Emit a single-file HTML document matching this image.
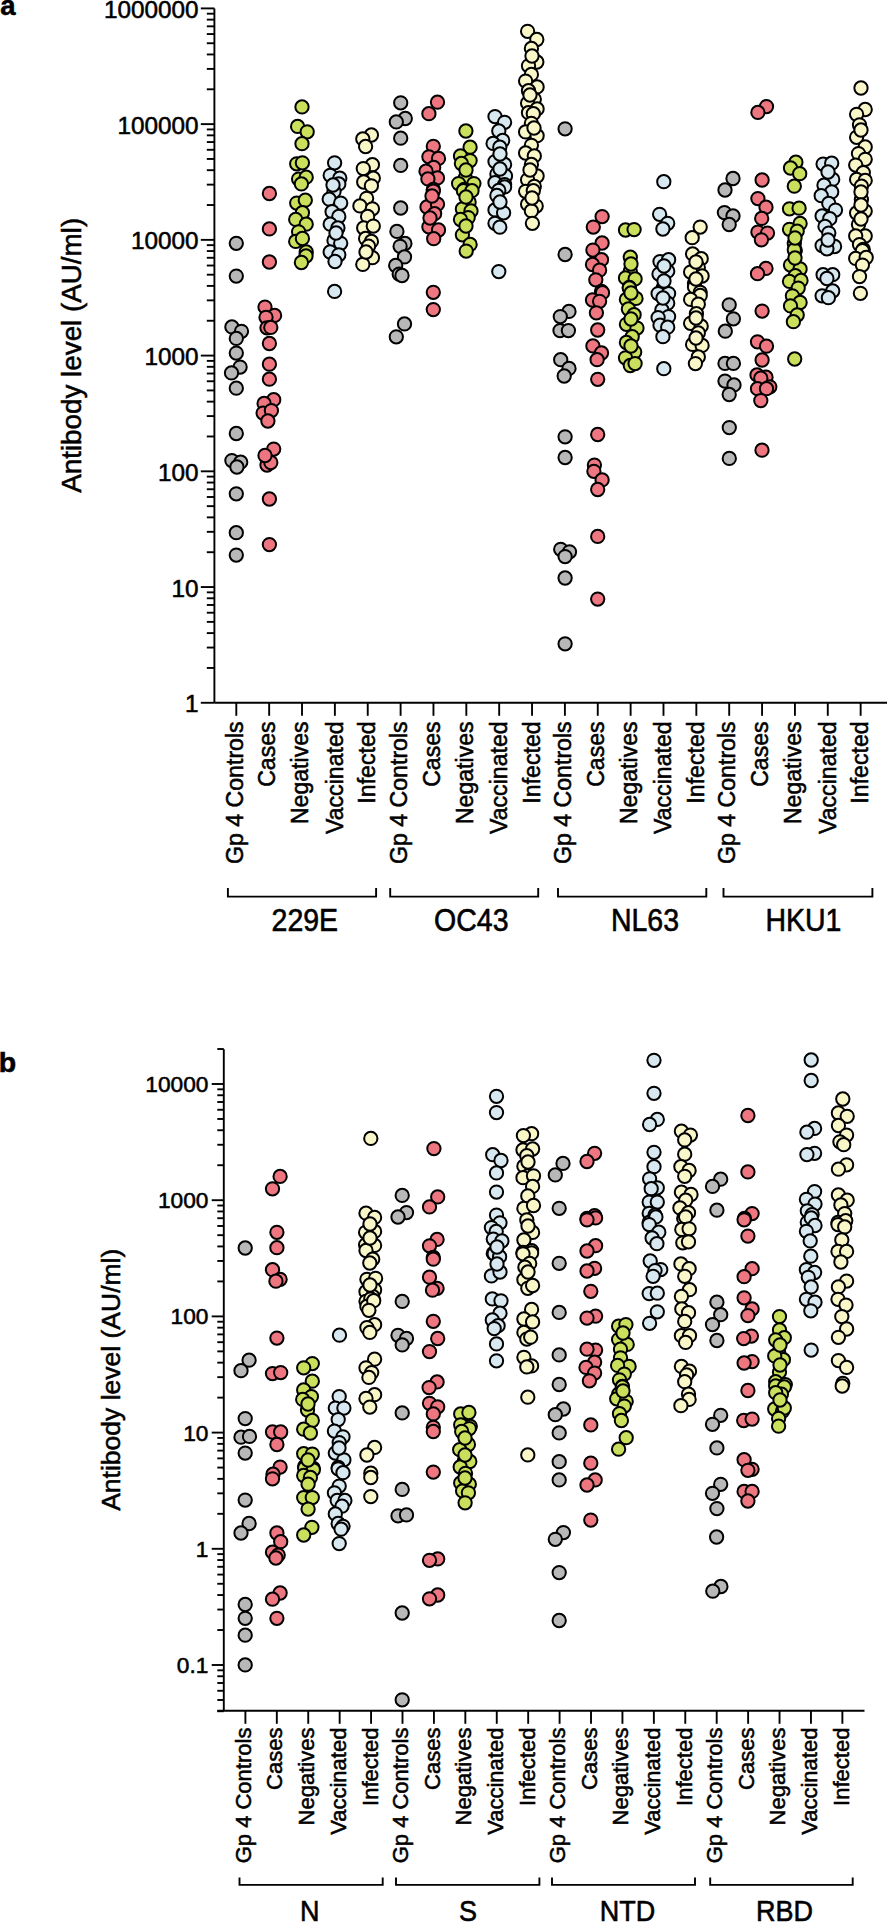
<!DOCTYPE html>
<html><head><meta charset="utf-8"><title>Antibody levels</title><style>html,body{margin:0;padding:0;background:#fff;width:887px;height:1922px;overflow:hidden}svg text{font-family:"Liberation Sans", sans-serif}</style></head><body>
<svg width="887" height="1922" viewBox="0 0 887 1922" style="display:block">
<rect width="887" height="1922" fill="#fff"/>
<g id="txt" stroke="#000" stroke-width="0.55">
<line x1="214.40" y1="8.40" x2="214.40" y2="702.80" stroke="#000" stroke-width="1.9"/>
<line x1="200.80" y1="702.78" x2="214.40" y2="702.78" stroke="#000" stroke-width="1.9"/>
<text x="198.60" y="712.38" font-size="24.3" text-anchor="end" font-weight="normal">1</text>
<line x1="200.80" y1="587.05" x2="214.40" y2="587.05" stroke="#000" stroke-width="1.9"/>
<text x="198.60" y="596.65" font-size="24.3" text-anchor="end" font-weight="normal">10</text>
<line x1="200.80" y1="471.32" x2="214.40" y2="471.32" stroke="#000" stroke-width="1.9"/>
<text x="198.60" y="480.92" font-size="24.3" text-anchor="end" font-weight="normal">100</text>
<line x1="200.80" y1="355.59" x2="214.40" y2="355.59" stroke="#000" stroke-width="1.9"/>
<text x="198.60" y="365.19" font-size="24.3" text-anchor="end" font-weight="normal">1000</text>
<line x1="200.80" y1="239.86" x2="214.40" y2="239.86" stroke="#000" stroke-width="1.9"/>
<text x="198.60" y="249.46" font-size="24.3" text-anchor="end" font-weight="normal">10000</text>
<line x1="200.80" y1="124.13" x2="214.40" y2="124.13" stroke="#000" stroke-width="1.9"/>
<text x="198.60" y="133.73" font-size="24.3" text-anchor="end" font-weight="normal">100000</text>
<line x1="200.80" y1="8.40" x2="214.40" y2="8.40" stroke="#000" stroke-width="1.9"/>
<text x="198.60" y="18.00" font-size="24.3" text-anchor="end" font-weight="normal">1000000</text>
<line x1="206.80" y1="667.94" x2="214.40" y2="667.94" stroke="#000" stroke-width="1.9"/>
<line x1="206.80" y1="647.56" x2="214.40" y2="647.56" stroke="#000" stroke-width="1.9"/>
<line x1="206.80" y1="633.10" x2="214.40" y2="633.10" stroke="#000" stroke-width="1.9"/>
<line x1="206.80" y1="621.89" x2="214.40" y2="621.89" stroke="#000" stroke-width="1.9"/>
<line x1="206.80" y1="612.72" x2="214.40" y2="612.72" stroke="#000" stroke-width="1.9"/>
<line x1="206.80" y1="604.98" x2="214.40" y2="604.98" stroke="#000" stroke-width="1.9"/>
<line x1="206.80" y1="598.27" x2="214.40" y2="598.27" stroke="#000" stroke-width="1.9"/>
<line x1="206.80" y1="592.35" x2="214.40" y2="592.35" stroke="#000" stroke-width="1.9"/>
<line x1="206.80" y1="552.21" x2="214.40" y2="552.21" stroke="#000" stroke-width="1.9"/>
<line x1="206.80" y1="531.83" x2="214.40" y2="531.83" stroke="#000" stroke-width="1.9"/>
<line x1="206.80" y1="517.37" x2="214.40" y2="517.37" stroke="#000" stroke-width="1.9"/>
<line x1="206.80" y1="506.16" x2="214.40" y2="506.16" stroke="#000" stroke-width="1.9"/>
<line x1="206.80" y1="496.99" x2="214.40" y2="496.99" stroke="#000" stroke-width="1.9"/>
<line x1="206.80" y1="489.25" x2="214.40" y2="489.25" stroke="#000" stroke-width="1.9"/>
<line x1="206.80" y1="482.54" x2="214.40" y2="482.54" stroke="#000" stroke-width="1.9"/>
<line x1="206.80" y1="476.62" x2="214.40" y2="476.62" stroke="#000" stroke-width="1.9"/>
<line x1="206.80" y1="436.48" x2="214.40" y2="436.48" stroke="#000" stroke-width="1.9"/>
<line x1="206.80" y1="416.10" x2="214.40" y2="416.10" stroke="#000" stroke-width="1.9"/>
<line x1="206.80" y1="401.64" x2="214.40" y2="401.64" stroke="#000" stroke-width="1.9"/>
<line x1="206.80" y1="390.43" x2="214.40" y2="390.43" stroke="#000" stroke-width="1.9"/>
<line x1="206.80" y1="381.26" x2="214.40" y2="381.26" stroke="#000" stroke-width="1.9"/>
<line x1="206.80" y1="373.52" x2="214.40" y2="373.52" stroke="#000" stroke-width="1.9"/>
<line x1="206.80" y1="366.81" x2="214.40" y2="366.81" stroke="#000" stroke-width="1.9"/>
<line x1="206.80" y1="360.89" x2="214.40" y2="360.89" stroke="#000" stroke-width="1.9"/>
<line x1="206.80" y1="320.75" x2="214.40" y2="320.75" stroke="#000" stroke-width="1.9"/>
<line x1="206.80" y1="300.37" x2="214.40" y2="300.37" stroke="#000" stroke-width="1.9"/>
<line x1="206.80" y1="285.91" x2="214.40" y2="285.91" stroke="#000" stroke-width="1.9"/>
<line x1="206.80" y1="274.70" x2="214.40" y2="274.70" stroke="#000" stroke-width="1.9"/>
<line x1="206.80" y1="265.53" x2="214.40" y2="265.53" stroke="#000" stroke-width="1.9"/>
<line x1="206.80" y1="257.79" x2="214.40" y2="257.79" stroke="#000" stroke-width="1.9"/>
<line x1="206.80" y1="251.08" x2="214.40" y2="251.08" stroke="#000" stroke-width="1.9"/>
<line x1="206.80" y1="245.16" x2="214.40" y2="245.16" stroke="#000" stroke-width="1.9"/>
<line x1="206.80" y1="205.02" x2="214.40" y2="205.02" stroke="#000" stroke-width="1.9"/>
<line x1="206.80" y1="184.64" x2="214.40" y2="184.64" stroke="#000" stroke-width="1.9"/>
<line x1="206.80" y1="170.18" x2="214.40" y2="170.18" stroke="#000" stroke-width="1.9"/>
<line x1="206.80" y1="158.97" x2="214.40" y2="158.97" stroke="#000" stroke-width="1.9"/>
<line x1="206.80" y1="149.80" x2="214.40" y2="149.80" stroke="#000" stroke-width="1.9"/>
<line x1="206.80" y1="142.06" x2="214.40" y2="142.06" stroke="#000" stroke-width="1.9"/>
<line x1="206.80" y1="135.35" x2="214.40" y2="135.35" stroke="#000" stroke-width="1.9"/>
<line x1="206.80" y1="129.43" x2="214.40" y2="129.43" stroke="#000" stroke-width="1.9"/>
<line x1="206.80" y1="89.29" x2="214.40" y2="89.29" stroke="#000" stroke-width="1.9"/>
<line x1="206.80" y1="68.91" x2="214.40" y2="68.91" stroke="#000" stroke-width="1.9"/>
<line x1="206.80" y1="54.45" x2="214.40" y2="54.45" stroke="#000" stroke-width="1.9"/>
<line x1="206.80" y1="43.24" x2="214.40" y2="43.24" stroke="#000" stroke-width="1.9"/>
<line x1="206.80" y1="34.07" x2="214.40" y2="34.07" stroke="#000" stroke-width="1.9"/>
<line x1="206.80" y1="26.33" x2="214.40" y2="26.33" stroke="#000" stroke-width="1.9"/>
<line x1="206.80" y1="19.62" x2="214.40" y2="19.62" stroke="#000" stroke-width="1.9"/>
<line x1="206.80" y1="13.70" x2="214.40" y2="13.70" stroke="#000" stroke-width="1.9"/>
<line x1="214.40" y1="702.80" x2="887.00" y2="702.80" stroke="#000" stroke-width="1.9"/>
<line x1="236.30" y1="702.80" x2="236.30" y2="715.80" stroke="#000" stroke-width="1.9"/>
<text transform="translate(242.50,721.40) rotate(-90)" x="0" y="0" font-size="23.1" text-anchor="end" font-weight="normal">Gp 4 Controls</text>
<line x1="269.16" y1="702.80" x2="269.16" y2="715.80" stroke="#000" stroke-width="1.9"/>
<text transform="translate(275.36,721.40) rotate(-90)" x="0" y="0" font-size="23.1" text-anchor="end" font-weight="normal">Cases</text>
<line x1="302.02" y1="702.80" x2="302.02" y2="715.80" stroke="#000" stroke-width="1.9"/>
<text transform="translate(308.22,721.40) rotate(-90)" x="0" y="0" font-size="23.1" text-anchor="end" font-weight="normal">Negatives</text>
<line x1="334.88" y1="702.80" x2="334.88" y2="715.80" stroke="#000" stroke-width="1.9"/>
<text transform="translate(342.78,721.40) rotate(-90)" x="0" y="0" font-size="23.1" text-anchor="end" font-weight="normal">Vaccinated</text>
<line x1="367.74" y1="702.80" x2="367.74" y2="715.80" stroke="#000" stroke-width="1.9"/>
<text transform="translate(375.24,721.40) rotate(-90)" x="0" y="0" font-size="23.1" text-anchor="end" font-weight="normal">Infected</text>
<line x1="400.60" y1="702.80" x2="400.60" y2="715.80" stroke="#000" stroke-width="1.9"/>
<text transform="translate(406.80,721.40) rotate(-90)" x="0" y="0" font-size="23.1" text-anchor="end" font-weight="normal">Gp 4 Controls</text>
<line x1="433.46" y1="702.80" x2="433.46" y2="715.80" stroke="#000" stroke-width="1.9"/>
<text transform="translate(439.66,721.40) rotate(-90)" x="0" y="0" font-size="23.1" text-anchor="end" font-weight="normal">Cases</text>
<line x1="466.32" y1="702.80" x2="466.32" y2="715.80" stroke="#000" stroke-width="1.9"/>
<text transform="translate(472.52,721.40) rotate(-90)" x="0" y="0" font-size="23.1" text-anchor="end" font-weight="normal">Negatives</text>
<line x1="499.18" y1="702.80" x2="499.18" y2="715.80" stroke="#000" stroke-width="1.9"/>
<text transform="translate(507.08,721.40) rotate(-90)" x="0" y="0" font-size="23.1" text-anchor="end" font-weight="normal">Vaccinated</text>
<line x1="532.04" y1="702.80" x2="532.04" y2="715.80" stroke="#000" stroke-width="1.9"/>
<text transform="translate(539.54,721.40) rotate(-90)" x="0" y="0" font-size="23.1" text-anchor="end" font-weight="normal">Infected</text>
<line x1="564.90" y1="702.80" x2="564.90" y2="715.80" stroke="#000" stroke-width="1.9"/>
<text transform="translate(571.10,721.40) rotate(-90)" x="0" y="0" font-size="23.1" text-anchor="end" font-weight="normal">Gp 4 Controls</text>
<line x1="597.76" y1="702.80" x2="597.76" y2="715.80" stroke="#000" stroke-width="1.9"/>
<text transform="translate(603.96,721.40) rotate(-90)" x="0" y="0" font-size="23.1" text-anchor="end" font-weight="normal">Cases</text>
<line x1="630.62" y1="702.80" x2="630.62" y2="715.80" stroke="#000" stroke-width="1.9"/>
<text transform="translate(636.82,721.40) rotate(-90)" x="0" y="0" font-size="23.1" text-anchor="end" font-weight="normal">Negatives</text>
<line x1="663.48" y1="702.80" x2="663.48" y2="715.80" stroke="#000" stroke-width="1.9"/>
<text transform="translate(671.38,721.40) rotate(-90)" x="0" y="0" font-size="23.1" text-anchor="end" font-weight="normal">Vaccinated</text>
<line x1="696.34" y1="702.80" x2="696.34" y2="715.80" stroke="#000" stroke-width="1.9"/>
<text transform="translate(703.84,721.40) rotate(-90)" x="0" y="0" font-size="23.1" text-anchor="end" font-weight="normal">Infected</text>
<line x1="729.20" y1="702.80" x2="729.20" y2="715.80" stroke="#000" stroke-width="1.9"/>
<text transform="translate(735.40,721.40) rotate(-90)" x="0" y="0" font-size="23.1" text-anchor="end" font-weight="normal">Gp 4 Controls</text>
<line x1="762.06" y1="702.80" x2="762.06" y2="715.80" stroke="#000" stroke-width="1.9"/>
<text transform="translate(768.26,721.40) rotate(-90)" x="0" y="0" font-size="23.1" text-anchor="end" font-weight="normal">Cases</text>
<line x1="794.92" y1="702.80" x2="794.92" y2="715.80" stroke="#000" stroke-width="1.9"/>
<text transform="translate(801.12,721.40) rotate(-90)" x="0" y="0" font-size="23.1" text-anchor="end" font-weight="normal">Negatives</text>
<line x1="827.78" y1="702.80" x2="827.78" y2="715.80" stroke="#000" stroke-width="1.9"/>
<text transform="translate(835.68,721.40) rotate(-90)" x="0" y="0" font-size="23.1" text-anchor="end" font-weight="normal">Vaccinated</text>
<line x1="860.64" y1="702.80" x2="860.64" y2="715.80" stroke="#000" stroke-width="1.9"/>
<text transform="translate(868.14,721.40) rotate(-90)" x="0" y="0" font-size="23.1" text-anchor="end" font-weight="normal">Infected</text>
<polyline points="227.90,888.00 227.90,896.60 376.10,896.60 376.10,888.00" fill="none" stroke="#000" stroke-width="1.9"/>
<text transform="translate(304.80,931.00) scale(1.0,1.08)" x="0" y="0" font-size="28.5" text-anchor="middle" font-weight="normal">229E</text>
<polyline points="390.20,888.00 390.20,896.60 538.20,896.60 538.20,888.00" fill="none" stroke="#000" stroke-width="1.9"/>
<text transform="translate(471.30,931.00) scale(1.0,1.08)" x="0" y="0" font-size="28.5" text-anchor="middle" font-weight="normal">OC43</text>
<polyline points="558.00,888.00 558.00,896.60 706.30,896.60 706.30,888.00" fill="none" stroke="#000" stroke-width="1.9"/>
<text transform="translate(645.00,931.00) scale(1.0,1.08)" x="0" y="0" font-size="28.5" text-anchor="middle" font-weight="normal">NL63</text>
<polyline points="723.50,888.00 723.50,896.60 872.40,896.60 872.40,888.00" fill="none" stroke="#000" stroke-width="1.9"/>
<text transform="translate(803.40,931.00) scale(1.0,1.08)" x="0" y="0" font-size="28.5" text-anchor="middle" font-weight="normal">HKU1</text>
<text transform="translate(81.00,355.30) rotate(-90)" x="0" y="0" font-size="27.8" text-anchor="middle" font-weight="normal">Antibody level (AU/ml)</text>
<line x1="223.80" y1="1049.20" x2="223.80" y2="1710.80" stroke="#000" stroke-width="1.9"/>
<line x1="211.70" y1="1665.00" x2="223.80" y2="1665.00" stroke="#000" stroke-width="1.9"/>
<text x="208.40" y="1672.90" font-size="22.7" text-anchor="end" font-weight="normal">0.1</text>
<line x1="211.70" y1="1548.80" x2="223.80" y2="1548.80" stroke="#000" stroke-width="1.9"/>
<text x="208.40" y="1556.70" font-size="22.7" text-anchor="end" font-weight="normal">1</text>
<line x1="211.70" y1="1432.60" x2="223.80" y2="1432.60" stroke="#000" stroke-width="1.9"/>
<text x="208.40" y="1440.50" font-size="22.7" text-anchor="end" font-weight="normal">10</text>
<line x1="211.70" y1="1316.40" x2="223.80" y2="1316.40" stroke="#000" stroke-width="1.9"/>
<text x="208.40" y="1324.30" font-size="22.7" text-anchor="end" font-weight="normal">100</text>
<line x1="211.70" y1="1200.20" x2="223.80" y2="1200.20" stroke="#000" stroke-width="1.9"/>
<text x="208.40" y="1208.10" font-size="22.7" text-anchor="end" font-weight="normal">1000</text>
<line x1="211.70" y1="1084.00" x2="223.80" y2="1084.00" stroke="#000" stroke-width="1.9"/>
<text x="208.40" y="1091.90" font-size="22.7" text-anchor="end" font-weight="normal">10000</text>
<line x1="217.30" y1="1711.24" x2="223.80" y2="1711.24" stroke="#000" stroke-width="1.9"/>
<line x1="217.30" y1="1699.98" x2="223.80" y2="1699.98" stroke="#000" stroke-width="1.9"/>
<line x1="217.30" y1="1690.78" x2="223.80" y2="1690.78" stroke="#000" stroke-width="1.9"/>
<line x1="217.30" y1="1683.00" x2="223.80" y2="1683.00" stroke="#000" stroke-width="1.9"/>
<line x1="217.30" y1="1676.26" x2="223.80" y2="1676.26" stroke="#000" stroke-width="1.9"/>
<line x1="217.30" y1="1670.32" x2="223.80" y2="1670.32" stroke="#000" stroke-width="1.9"/>
<line x1="217.30" y1="1630.02" x2="223.80" y2="1630.02" stroke="#000" stroke-width="1.9"/>
<line x1="217.30" y1="1609.56" x2="223.80" y2="1609.56" stroke="#000" stroke-width="1.9"/>
<line x1="217.30" y1="1595.04" x2="223.80" y2="1595.04" stroke="#000" stroke-width="1.9"/>
<line x1="217.30" y1="1583.78" x2="223.80" y2="1583.78" stroke="#000" stroke-width="1.9"/>
<line x1="217.30" y1="1574.58" x2="223.80" y2="1574.58" stroke="#000" stroke-width="1.9"/>
<line x1="217.30" y1="1566.80" x2="223.80" y2="1566.80" stroke="#000" stroke-width="1.9"/>
<line x1="217.30" y1="1560.06" x2="223.80" y2="1560.06" stroke="#000" stroke-width="1.9"/>
<line x1="217.30" y1="1554.12" x2="223.80" y2="1554.12" stroke="#000" stroke-width="1.9"/>
<line x1="217.30" y1="1513.82" x2="223.80" y2="1513.82" stroke="#000" stroke-width="1.9"/>
<line x1="217.30" y1="1493.36" x2="223.80" y2="1493.36" stroke="#000" stroke-width="1.9"/>
<line x1="217.30" y1="1478.84" x2="223.80" y2="1478.84" stroke="#000" stroke-width="1.9"/>
<line x1="217.30" y1="1467.58" x2="223.80" y2="1467.58" stroke="#000" stroke-width="1.9"/>
<line x1="217.30" y1="1458.38" x2="223.80" y2="1458.38" stroke="#000" stroke-width="1.9"/>
<line x1="217.30" y1="1450.60" x2="223.80" y2="1450.60" stroke="#000" stroke-width="1.9"/>
<line x1="217.30" y1="1443.86" x2="223.80" y2="1443.86" stroke="#000" stroke-width="1.9"/>
<line x1="217.30" y1="1437.92" x2="223.80" y2="1437.92" stroke="#000" stroke-width="1.9"/>
<line x1="217.30" y1="1397.62" x2="223.80" y2="1397.62" stroke="#000" stroke-width="1.9"/>
<line x1="217.30" y1="1377.16" x2="223.80" y2="1377.16" stroke="#000" stroke-width="1.9"/>
<line x1="217.30" y1="1362.64" x2="223.80" y2="1362.64" stroke="#000" stroke-width="1.9"/>
<line x1="217.30" y1="1351.38" x2="223.80" y2="1351.38" stroke="#000" stroke-width="1.9"/>
<line x1="217.30" y1="1342.18" x2="223.80" y2="1342.18" stroke="#000" stroke-width="1.9"/>
<line x1="217.30" y1="1334.40" x2="223.80" y2="1334.40" stroke="#000" stroke-width="1.9"/>
<line x1="217.30" y1="1327.66" x2="223.80" y2="1327.66" stroke="#000" stroke-width="1.9"/>
<line x1="217.30" y1="1321.72" x2="223.80" y2="1321.72" stroke="#000" stroke-width="1.9"/>
<line x1="217.30" y1="1281.42" x2="223.80" y2="1281.42" stroke="#000" stroke-width="1.9"/>
<line x1="217.30" y1="1260.96" x2="223.80" y2="1260.96" stroke="#000" stroke-width="1.9"/>
<line x1="217.30" y1="1246.44" x2="223.80" y2="1246.44" stroke="#000" stroke-width="1.9"/>
<line x1="217.30" y1="1235.18" x2="223.80" y2="1235.18" stroke="#000" stroke-width="1.9"/>
<line x1="217.30" y1="1225.98" x2="223.80" y2="1225.98" stroke="#000" stroke-width="1.9"/>
<line x1="217.30" y1="1218.20" x2="223.80" y2="1218.20" stroke="#000" stroke-width="1.9"/>
<line x1="217.30" y1="1211.46" x2="223.80" y2="1211.46" stroke="#000" stroke-width="1.9"/>
<line x1="217.30" y1="1205.52" x2="223.80" y2="1205.52" stroke="#000" stroke-width="1.9"/>
<line x1="217.30" y1="1165.22" x2="223.80" y2="1165.22" stroke="#000" stroke-width="1.9"/>
<line x1="217.30" y1="1144.76" x2="223.80" y2="1144.76" stroke="#000" stroke-width="1.9"/>
<line x1="217.30" y1="1130.24" x2="223.80" y2="1130.24" stroke="#000" stroke-width="1.9"/>
<line x1="217.30" y1="1118.98" x2="223.80" y2="1118.98" stroke="#000" stroke-width="1.9"/>
<line x1="217.30" y1="1109.78" x2="223.80" y2="1109.78" stroke="#000" stroke-width="1.9"/>
<line x1="217.30" y1="1102.00" x2="223.80" y2="1102.00" stroke="#000" stroke-width="1.9"/>
<line x1="217.30" y1="1095.26" x2="223.80" y2="1095.26" stroke="#000" stroke-width="1.9"/>
<line x1="217.30" y1="1089.32" x2="223.80" y2="1089.32" stroke="#000" stroke-width="1.9"/>
<line x1="217.30" y1="1049.02" x2="223.80" y2="1049.02" stroke="#000" stroke-width="1.9"/>
<line x1="217.30" y1="1710.80" x2="864.50" y2="1710.80" stroke="#000" stroke-width="1.9"/>
<line x1="245.40" y1="1710.80" x2="245.40" y2="1723.80" stroke="#000" stroke-width="1.9"/>
<text transform="translate(251.00,1727.60) rotate(-90)" x="0" y="0" font-size="22.0" text-anchor="end" font-weight="normal">Gp 4 Controls</text>
<line x1="276.82" y1="1710.80" x2="276.82" y2="1723.80" stroke="#000" stroke-width="1.9"/>
<text transform="translate(282.42,1727.60) rotate(-90)" x="0" y="0" font-size="22.0" text-anchor="end" font-weight="normal">Cases</text>
<line x1="308.24" y1="1710.80" x2="308.24" y2="1723.80" stroke="#000" stroke-width="1.9"/>
<text transform="translate(313.84,1727.60) rotate(-90)" x="0" y="0" font-size="22.0" text-anchor="end" font-weight="normal">Negatives</text>
<line x1="339.66" y1="1710.80" x2="339.66" y2="1723.80" stroke="#000" stroke-width="1.9"/>
<text transform="translate(346.06,1727.60) rotate(-90)" x="0" y="0" font-size="22.0" text-anchor="end" font-weight="normal">Vaccinated</text>
<line x1="371.08" y1="1710.80" x2="371.08" y2="1723.80" stroke="#000" stroke-width="1.9"/>
<text transform="translate(377.68,1727.60) rotate(-90)" x="0" y="0" font-size="22.0" text-anchor="end" font-weight="normal">Infected</text>
<line x1="402.50" y1="1710.80" x2="402.50" y2="1723.80" stroke="#000" stroke-width="1.9"/>
<text transform="translate(408.10,1727.60) rotate(-90)" x="0" y="0" font-size="22.0" text-anchor="end" font-weight="normal">Gp 4 Controls</text>
<line x1="433.92" y1="1710.80" x2="433.92" y2="1723.80" stroke="#000" stroke-width="1.9"/>
<text transform="translate(439.52,1727.60) rotate(-90)" x="0" y="0" font-size="22.0" text-anchor="end" font-weight="normal">Cases</text>
<line x1="465.34" y1="1710.80" x2="465.34" y2="1723.80" stroke="#000" stroke-width="1.9"/>
<text transform="translate(470.94,1727.60) rotate(-90)" x="0" y="0" font-size="22.0" text-anchor="end" font-weight="normal">Negatives</text>
<line x1="496.76" y1="1710.80" x2="496.76" y2="1723.80" stroke="#000" stroke-width="1.9"/>
<text transform="translate(503.16,1727.60) rotate(-90)" x="0" y="0" font-size="22.0" text-anchor="end" font-weight="normal">Vaccinated</text>
<line x1="528.18" y1="1710.80" x2="528.18" y2="1723.80" stroke="#000" stroke-width="1.9"/>
<text transform="translate(534.78,1727.60) rotate(-90)" x="0" y="0" font-size="22.0" text-anchor="end" font-weight="normal">Infected</text>
<line x1="559.60" y1="1710.80" x2="559.60" y2="1723.80" stroke="#000" stroke-width="1.9"/>
<text transform="translate(565.20,1727.60) rotate(-90)" x="0" y="0" font-size="22.0" text-anchor="end" font-weight="normal">Gp 4 Controls</text>
<line x1="591.02" y1="1710.80" x2="591.02" y2="1723.80" stroke="#000" stroke-width="1.9"/>
<text transform="translate(596.62,1727.60) rotate(-90)" x="0" y="0" font-size="22.0" text-anchor="end" font-weight="normal">Cases</text>
<line x1="622.44" y1="1710.80" x2="622.44" y2="1723.80" stroke="#000" stroke-width="1.9"/>
<text transform="translate(628.04,1727.60) rotate(-90)" x="0" y="0" font-size="22.0" text-anchor="end" font-weight="normal">Negatives</text>
<line x1="653.86" y1="1710.80" x2="653.86" y2="1723.80" stroke="#000" stroke-width="1.9"/>
<text transform="translate(660.26,1727.60) rotate(-90)" x="0" y="0" font-size="22.0" text-anchor="end" font-weight="normal">Vaccinated</text>
<line x1="685.28" y1="1710.80" x2="685.28" y2="1723.80" stroke="#000" stroke-width="1.9"/>
<text transform="translate(691.88,1727.60) rotate(-90)" x="0" y="0" font-size="22.0" text-anchor="end" font-weight="normal">Infected</text>
<line x1="716.70" y1="1710.80" x2="716.70" y2="1723.80" stroke="#000" stroke-width="1.9"/>
<text transform="translate(722.30,1727.60) rotate(-90)" x="0" y="0" font-size="22.0" text-anchor="end" font-weight="normal">Gp 4 Controls</text>
<line x1="748.12" y1="1710.80" x2="748.12" y2="1723.80" stroke="#000" stroke-width="1.9"/>
<text transform="translate(753.72,1727.60) rotate(-90)" x="0" y="0" font-size="22.0" text-anchor="end" font-weight="normal">Cases</text>
<line x1="779.54" y1="1710.80" x2="779.54" y2="1723.80" stroke="#000" stroke-width="1.9"/>
<text transform="translate(785.14,1727.60) rotate(-90)" x="0" y="0" font-size="22.0" text-anchor="end" font-weight="normal">Negatives</text>
<line x1="810.96" y1="1710.80" x2="810.96" y2="1723.80" stroke="#000" stroke-width="1.9"/>
<text transform="translate(817.36,1727.60) rotate(-90)" x="0" y="0" font-size="22.0" text-anchor="end" font-weight="normal">Vaccinated</text>
<line x1="842.38" y1="1710.80" x2="842.38" y2="1723.80" stroke="#000" stroke-width="1.9"/>
<text transform="translate(848.98,1727.60) rotate(-90)" x="0" y="0" font-size="22.0" text-anchor="end" font-weight="normal">Infected</text>
<polyline points="239.50,1877.40 239.50,1884.90 382.70,1884.90 382.70,1877.40" fill="none" stroke="#000" stroke-width="1.9"/>
<text transform="translate(309.70,1921.20) scale(1.0,1.08)" x="0" y="0" font-size="27" text-anchor="middle" font-weight="normal">N</text>
<polyline points="396.00,1877.40 396.00,1884.90 539.40,1884.90 539.40,1877.40" fill="none" stroke="#000" stroke-width="1.9"/>
<text transform="translate(468.00,1921.20) scale(1.0,1.08)" x="0" y="0" font-size="27" text-anchor="middle" font-weight="normal">S</text>
<polyline points="552.00,1877.40 552.00,1884.90 695.00,1884.90 695.00,1877.40" fill="none" stroke="#000" stroke-width="1.9"/>
<text transform="translate(627.40,1921.20) scale(1.0,1.08)" x="0" y="0" font-size="27" text-anchor="middle" font-weight="normal">NTD</text>
<polyline points="710.20,1877.40 710.20,1884.90 852.70,1884.90 852.70,1877.40" fill="none" stroke="#000" stroke-width="1.9"/>
<text transform="translate(784.60,1921.20) scale(1.0,1.08)" x="0" y="0" font-size="27" text-anchor="middle" font-weight="normal">RBD</text>
<text transform="translate(120.10,1379.80) rotate(-90)" x="0" y="0" font-size="26.5" text-anchor="middle" font-weight="normal">Antibody level (AU/ml)</text>
<text x="0.30" y="15.40" font-size="27.5" text-anchor="start" font-weight="bold">a</text>
<text x="-1.20" y="1071.60" font-size="28.5" text-anchor="start" font-weight="bold">b</text>
</g>
<g stroke="#000" stroke-width="2.0">
<g fill="#b8b8b8">
<circle cx="236.3" cy="243.3" r="6.65"/>
<circle cx="236.3" cy="276.1" r="6.65"/>
<circle cx="231.9" cy="326.9" r="6.65"/>
<circle cx="241.5" cy="331.3" r="6.65"/>
<circle cx="236.3" cy="338.4" r="6.65"/>
<circle cx="236.3" cy="353.1" r="6.65"/>
<circle cx="240.1" cy="367.1" r="6.65"/>
<circle cx="231.5" cy="372.9" r="6.65"/>
<circle cx="236.3" cy="388.2" r="6.65"/>
<circle cx="236.3" cy="433.5" r="6.65"/>
<circle cx="231.9" cy="460.6" r="6.65"/>
<circle cx="240.7" cy="462.2" r="6.65"/>
<circle cx="236.9" cy="467.0" r="6.65"/>
<circle cx="236.3" cy="493.8" r="6.65"/>
<circle cx="236.3" cy="532.7" r="6.65"/>
<circle cx="236.3" cy="555.1" r="6.65"/>
</g>
<g fill="#ee7680">
<circle cx="269.4" cy="193.5" r="6.65"/>
<circle cx="269.4" cy="228.9" r="6.65"/>
<circle cx="269.4" cy="262.0" r="6.65"/>
<circle cx="265.0" cy="307.1" r="6.65"/>
<circle cx="274.6" cy="315.4" r="6.65"/>
<circle cx="266.0" cy="317.3" r="6.65"/>
<circle cx="267.0" cy="327.8" r="6.65"/>
<circle cx="270.8" cy="327.4" r="6.65"/>
<circle cx="269.4" cy="343.5" r="6.65"/>
<circle cx="269.4" cy="364.2" r="6.65"/>
<circle cx="269.4" cy="379.2" r="6.65"/>
<circle cx="273.7" cy="399.7" r="6.65"/>
<circle cx="264.1" cy="403.5" r="6.65"/>
<circle cx="263.1" cy="413.1" r="6.65"/>
<circle cx="271.4" cy="410.6" r="6.65"/>
<circle cx="267.9" cy="421.0" r="6.65"/>
<circle cx="273.7" cy="449.1" r="6.65"/>
<circle cx="267.0" cy="465.0" r="6.65"/>
<circle cx="270.8" cy="462.5" r="6.65"/>
<circle cx="265.0" cy="455.5" r="6.65"/>
<circle cx="269.4" cy="499.0" r="6.65"/>
<circle cx="269.4" cy="544.6" r="6.65"/>
</g>
<g fill="#cadf5c">
<circle cx="302.0" cy="106.9" r="6.65"/>
<circle cx="297.6" cy="126.4" r="6.65"/>
<circle cx="307.2" cy="131.8" r="6.65"/>
<circle cx="302.0" cy="143.7" r="6.65"/>
<circle cx="296.7" cy="163.8" r="6.65"/>
<circle cx="302.4" cy="162.8" r="6.65"/>
<circle cx="298.6" cy="179.1" r="6.65"/>
<circle cx="306.2" cy="177.2" r="6.65"/>
<circle cx="301.4" cy="183.9" r="6.65"/>
<circle cx="296.7" cy="203.1" r="6.65"/>
<circle cx="305.3" cy="200.2" r="6.65"/>
<circle cx="302.4" cy="212.7" r="6.65"/>
<circle cx="295.7" cy="219.4" r="6.65"/>
<circle cx="306.2" cy="224.2" r="6.65"/>
<circle cx="298.6" cy="231.8" r="6.65"/>
<circle cx="295.7" cy="241.4" r="6.65"/>
<circle cx="302.4" cy="238.5" r="6.65"/>
<circle cx="306.2" cy="252.0" r="6.65"/>
<circle cx="306.0" cy="256.0" r="6.65"/>
<circle cx="301.4" cy="262.5" r="6.65"/>
</g>
<g fill="#d7e8f0">
<circle cx="334.6" cy="162.8" r="6.65"/>
<circle cx="330.2" cy="175.3" r="6.65"/>
<circle cx="339.8" cy="178.2" r="6.65"/>
<circle cx="338.8" cy="183.9" r="6.65"/>
<circle cx="334.0" cy="191.6" r="6.65"/>
<circle cx="329.2" cy="199.2" r="6.65"/>
<circle cx="340.7" cy="203.1" r="6.65"/>
<circle cx="332.1" cy="211.7" r="6.65"/>
<circle cx="338.8" cy="216.5" r="6.65"/>
<circle cx="330.2" cy="224.2" r="6.65"/>
<circle cx="337.9" cy="228.0" r="6.65"/>
<circle cx="334.0" cy="240.4" r="6.65"/>
<circle cx="340.7" cy="243.3" r="6.65"/>
<circle cx="330.2" cy="252.0" r="6.65"/>
<circle cx="338.8" cy="254.8" r="6.65"/>
<circle cx="335.0" cy="261.5" r="6.65"/>
<circle cx="334.6" cy="291.4" r="6.65"/>
<circle cx="333.0" cy="185.0" r="6.65"/>
<circle cx="336.0" cy="233.0" r="6.65"/>
</g>
<g fill="#f9f6c8">
<circle cx="371.4" cy="135.0" r="6.65"/>
<circle cx="362.8" cy="138.9" r="6.65"/>
<circle cx="365.6" cy="146.5" r="6.65"/>
<circle cx="372.4" cy="164.7" r="6.65"/>
<circle cx="363.3" cy="168.6" r="6.65"/>
<circle cx="373.3" cy="178.2" r="6.65"/>
<circle cx="363.7" cy="182.0" r="6.65"/>
<circle cx="371.4" cy="185.8" r="6.65"/>
<circle cx="366.6" cy="198.3" r="6.65"/>
<circle cx="359.9" cy="205.9" r="6.65"/>
<circle cx="372.4" cy="208.8" r="6.65"/>
<circle cx="367.6" cy="216.5" r="6.65"/>
<circle cx="363.7" cy="228.0" r="6.65"/>
<circle cx="373.3" cy="226.1" r="6.65"/>
<circle cx="365.6" cy="238.5" r="6.65"/>
<circle cx="371.4" cy="241.4" r="6.65"/>
<circle cx="368.5" cy="246.2" r="6.65"/>
<circle cx="372.4" cy="257.7" r="6.65"/>
<circle cx="362.8" cy="264.4" r="6.65"/>
<circle cx="366.0" cy="252.0" r="6.65"/>
</g>
<g fill="#b8b8b8">
<circle cx="400.7" cy="102.8" r="6.65"/>
<circle cx="405.3" cy="118.5" r="6.65"/>
<circle cx="396.3" cy="121.9" r="6.65"/>
<circle cx="400.7" cy="138.2" r="6.65"/>
<circle cx="400.7" cy="165.4" r="6.65"/>
<circle cx="400.7" cy="208.0" r="6.65"/>
<circle cx="396.9" cy="231.4" r="6.65"/>
<circle cx="404.9" cy="243.5" r="6.65"/>
<circle cx="400.1" cy="246.3" r="6.65"/>
<circle cx="404.5" cy="256.9" r="6.65"/>
<circle cx="395.7" cy="265.5" r="6.65"/>
<circle cx="399.2" cy="274.1" r="6.65"/>
<circle cx="402.0" cy="275.5" r="6.65"/>
<circle cx="404.5" cy="323.9" r="6.65"/>
<circle cx="396.3" cy="336.8" r="6.65"/>
</g>
<g fill="#ee7680">
<circle cx="437.5" cy="102.2" r="6.65"/>
<circle cx="428.9" cy="113.7" r="6.65"/>
<circle cx="433.3" cy="146.3" r="6.65"/>
<circle cx="428.9" cy="156.8" r="6.65"/>
<circle cx="438.5" cy="158.4" r="6.65"/>
<circle cx="433.7" cy="167.4" r="6.65"/>
<circle cx="426.0" cy="171.2" r="6.65"/>
<circle cx="437.5" cy="177.9" r="6.65"/>
<circle cx="427.9" cy="178.9" r="6.65"/>
<circle cx="433.3" cy="189.4" r="6.65"/>
<circle cx="433.3" cy="191.1" r="6.65"/>
<circle cx="427.0" cy="207.0" r="6.65"/>
<circle cx="437.5" cy="204.2" r="6.65"/>
<circle cx="434.6" cy="213.7" r="6.65"/>
<circle cx="428.9" cy="226.8" r="6.65"/>
<circle cx="438.5" cy="230.0" r="6.65"/>
<circle cx="433.7" cy="238.7" r="6.65"/>
<circle cx="433.3" cy="292.3" r="6.65"/>
<circle cx="433.3" cy="309.6" r="6.65"/>
<circle cx="432.0" cy="196.0" r="6.65"/>
<circle cx="430.0" cy="218.0" r="6.65"/>
</g>
<g fill="#cadf5c">
<circle cx="465.9" cy="131.0" r="6.65"/>
<circle cx="470.1" cy="147.2" r="6.65"/>
<circle cx="460.5" cy="155.9" r="6.65"/>
<circle cx="470.1" cy="160.6" r="6.65"/>
<circle cx="461.4" cy="163.5" r="6.65"/>
<circle cx="465.3" cy="177.9" r="6.65"/>
<circle cx="458.6" cy="183.6" r="6.65"/>
<circle cx="473.9" cy="183.6" r="6.65"/>
<circle cx="464.3" cy="189.4" r="6.65"/>
<circle cx="463.4" cy="190.7" r="6.65"/>
<circle cx="472.0" cy="190.7" r="6.65"/>
<circle cx="469.1" cy="202.2" r="6.65"/>
<circle cx="462.4" cy="209.0" r="6.65"/>
<circle cx="471.0" cy="210.9" r="6.65"/>
<circle cx="468.2" cy="217.6" r="6.65"/>
<circle cx="460.5" cy="219.5" r="6.65"/>
<circle cx="462.4" cy="234.8" r="6.65"/>
<circle cx="470.1" cy="244.4" r="6.65"/>
<circle cx="466.2" cy="251.1" r="6.65"/>
<circle cx="466.0" cy="170.0" r="6.65"/>
<circle cx="466.0" cy="197.0" r="6.65"/>
<circle cx="466.0" cy="226.0" r="6.65"/>
</g>
<g fill="#d7e8f0">
<circle cx="495.0" cy="116.6" r="6.65"/>
<circle cx="504.6" cy="122.3" r="6.65"/>
<circle cx="498.8" cy="131.0" r="6.65"/>
<circle cx="502.7" cy="140.5" r="6.65"/>
<circle cx="493.1" cy="143.4" r="6.65"/>
<circle cx="499.8" cy="147.2" r="6.65"/>
<circle cx="495.0" cy="161.6" r="6.65"/>
<circle cx="504.6" cy="164.5" r="6.65"/>
<circle cx="496.9" cy="174.1" r="6.65"/>
<circle cx="505.5" cy="176.0" r="6.65"/>
<circle cx="495.0" cy="182.7" r="6.65"/>
<circle cx="504.6" cy="184.6" r="6.65"/>
<circle cx="504.6" cy="186.9" r="6.65"/>
<circle cx="498.8" cy="190.4" r="6.65"/>
<circle cx="496.9" cy="195.5" r="6.65"/>
<circle cx="495.0" cy="209.9" r="6.65"/>
<circle cx="503.6" cy="212.8" r="6.65"/>
<circle cx="495.0" cy="223.3" r="6.65"/>
<circle cx="499.8" cy="227.2" r="6.65"/>
<circle cx="498.8" cy="271.6" r="6.65"/>
<circle cx="500.0" cy="154.0" r="6.65"/>
<circle cx="500.0" cy="169.0" r="6.65"/>
<circle cx="500.0" cy="202.0" r="6.65"/>
</g>
<g fill="#f9f6c8">
<circle cx="527.6" cy="31.3" r="6.65"/>
<circle cx="536.8" cy="39.5" r="6.65"/>
<circle cx="531.4" cy="48.5" r="6.65"/>
<circle cx="536.8" cy="62.0" r="6.65"/>
<circle cx="528.5" cy="65.8" r="6.65"/>
<circle cx="531.4" cy="74.4" r="6.65"/>
<circle cx="525.6" cy="81.1" r="6.65"/>
<circle cx="537.1" cy="86.9" r="6.65"/>
<circle cx="528.5" cy="90.7" r="6.65"/>
<circle cx="534.3" cy="99.3" r="6.65"/>
<circle cx="527.6" cy="103.2" r="6.65"/>
<circle cx="537.1" cy="108.9" r="6.65"/>
<circle cx="528.5" cy="112.7" r="6.65"/>
<circle cx="533.3" cy="113.7" r="6.65"/>
<circle cx="531.4" cy="123.3" r="6.65"/>
<circle cx="525.6" cy="131.9" r="6.65"/>
<circle cx="537.1" cy="135.7" r="6.65"/>
<circle cx="531.4" cy="145.3" r="6.65"/>
<circle cx="525.6" cy="153.0" r="6.65"/>
<circle cx="534.3" cy="155.9" r="6.65"/>
<circle cx="531.4" cy="164.5" r="6.65"/>
<circle cx="537.1" cy="176.0" r="6.65"/>
<circle cx="527.6" cy="179.8" r="6.65"/>
<circle cx="534.3" cy="186.5" r="6.65"/>
<circle cx="525.6" cy="191.3" r="6.65"/>
<circle cx="533.3" cy="190.7" r="6.65"/>
<circle cx="527.6" cy="204.2" r="6.65"/>
<circle cx="536.2" cy="206.1" r="6.65"/>
<circle cx="531.4" cy="210.9" r="6.65"/>
<circle cx="532.4" cy="223.3" r="6.65"/>
<circle cx="532.0" cy="56.0" r="6.65"/>
<circle cx="530.0" cy="95.0" r="6.65"/>
<circle cx="534.0" cy="128.0" r="6.65"/>
<circle cx="530.0" cy="170.0" r="6.65"/>
<circle cx="532.0" cy="198.0" r="6.65"/>
</g>
<g fill="#b8b8b8">
<circle cx="565.1" cy="128.8" r="6.65"/>
<circle cx="565.1" cy="254.5" r="6.65"/>
<circle cx="569.0" cy="311.4" r="6.65"/>
<circle cx="560.3" cy="316.6" r="6.65"/>
<circle cx="560.0" cy="330.6" r="6.65"/>
<circle cx="568.4" cy="330.6" r="6.65"/>
<circle cx="560.7" cy="359.7" r="6.65"/>
<circle cx="569.0" cy="368.4" r="6.65"/>
<circle cx="564.2" cy="376.0" r="6.65"/>
<circle cx="565.1" cy="436.8" r="6.65"/>
<circle cx="565.1" cy="457.5" r="6.65"/>
<circle cx="560.7" cy="549.3" r="6.65"/>
<circle cx="569.5" cy="551.8" r="6.65"/>
<circle cx="565.1" cy="556.6" r="6.65"/>
<circle cx="565.1" cy="578.0" r="6.65"/>
<circle cx="565.1" cy="643.8" r="6.65"/>
</g>
<g fill="#ee7680">
<circle cx="602.1" cy="216.6" r="6.65"/>
<circle cx="593.3" cy="227.1" r="6.65"/>
<circle cx="602.1" cy="243.0" r="6.65"/>
<circle cx="592.9" cy="250.1" r="6.65"/>
<circle cx="601.5" cy="259.7" r="6.65"/>
<circle cx="592.5" cy="264.5" r="6.65"/>
<circle cx="599.6" cy="270.2" r="6.65"/>
<circle cx="595.8" cy="279.8" r="6.65"/>
<circle cx="601.5" cy="291.3" r="6.65"/>
<circle cx="602.5" cy="292.7" r="6.65"/>
<circle cx="592.5" cy="300.0" r="6.65"/>
<circle cx="599.6" cy="301.3" r="6.65"/>
<circle cx="596.4" cy="312.8" r="6.65"/>
<circle cx="597.7" cy="330.0" r="6.65"/>
<circle cx="592.9" cy="345.9" r="6.65"/>
<circle cx="601.5" cy="353.0" r="6.65"/>
<circle cx="597.1" cy="359.7" r="6.65"/>
<circle cx="597.7" cy="379.3" r="6.65"/>
<circle cx="597.7" cy="434.5" r="6.65"/>
<circle cx="594.4" cy="465.1" r="6.65"/>
<circle cx="593.9" cy="471.3" r="6.65"/>
<circle cx="602.1" cy="479.9" r="6.65"/>
<circle cx="597.7" cy="489.5" r="6.65"/>
<circle cx="597.7" cy="536.4" r="6.65"/>
<circle cx="597.7" cy="599.1" r="6.65"/>
</g>
<g fill="#cadf5c">
<circle cx="625.5" cy="230.0" r="6.65"/>
<circle cx="634.1" cy="229.6" r="6.65"/>
<circle cx="630.3" cy="257.2" r="6.65"/>
<circle cx="630.3" cy="271.2" r="6.65"/>
<circle cx="625.5" cy="277.9" r="6.65"/>
<circle cx="635.1" cy="278.9" r="6.65"/>
<circle cx="629.3" cy="287.5" r="6.65"/>
<circle cx="629.3" cy="287.9" r="6.65"/>
<circle cx="626.4" cy="299.4" r="6.65"/>
<circle cx="636.0" cy="298.4" r="6.65"/>
<circle cx="628.4" cy="309.0" r="6.65"/>
<circle cx="634.1" cy="314.7" r="6.65"/>
<circle cx="626.4" cy="324.3" r="6.65"/>
<circle cx="637.0" cy="328.1" r="6.65"/>
<circle cx="632.2" cy="336.7" r="6.65"/>
<circle cx="626.4" cy="342.5" r="6.65"/>
<circle cx="634.7" cy="352.1" r="6.65"/>
<circle cx="625.5" cy="357.8" r="6.65"/>
<circle cx="630.3" cy="365.5" r="6.65"/>
<circle cx="635.1" cy="363.6" r="6.65"/>
<circle cx="631.0" cy="293.0" r="6.65"/>
<circle cx="631.0" cy="319.0" r="6.65"/>
<circle cx="631.0" cy="346.0" r="6.65"/>
<circle cx="631.0" cy="264.0" r="6.65"/>
</g>
<g fill="#d7e8f0">
<circle cx="663.8" cy="181.7" r="6.65"/>
<circle cx="659.6" cy="214.3" r="6.65"/>
<circle cx="667.7" cy="223.3" r="6.65"/>
<circle cx="662.9" cy="229.0" r="6.65"/>
<circle cx="660.0" cy="261.6" r="6.65"/>
<circle cx="668.6" cy="259.7" r="6.65"/>
<circle cx="667.7" cy="271.2" r="6.65"/>
<circle cx="659.0" cy="274.1" r="6.65"/>
<circle cx="662.9" cy="288.4" r="6.65"/>
<circle cx="662.9" cy="289.8" r="6.65"/>
<circle cx="658.1" cy="293.6" r="6.65"/>
<circle cx="668.6" cy="293.6" r="6.65"/>
<circle cx="667.7" cy="303.2" r="6.65"/>
<circle cx="661.9" cy="309.9" r="6.65"/>
<circle cx="668.6" cy="316.6" r="6.65"/>
<circle cx="658.1" cy="317.6" r="6.65"/>
<circle cx="660.0" cy="325.2" r="6.65"/>
<circle cx="667.7" cy="327.2" r="6.65"/>
<circle cx="662.9" cy="336.7" r="6.65"/>
<circle cx="663.8" cy="368.7" r="6.65"/>
<circle cx="664.0" cy="266.0" r="6.65"/>
<circle cx="664.0" cy="281.0" r="6.65"/>
<circle cx="663.0" cy="298.0" r="6.65"/>
</g>
<g fill="#f9f6c8">
<circle cx="700.2" cy="227.1" r="6.65"/>
<circle cx="692.2" cy="237.7" r="6.65"/>
<circle cx="692.6" cy="253.9" r="6.65"/>
<circle cx="701.2" cy="258.7" r="6.65"/>
<circle cx="698.3" cy="267.4" r="6.65"/>
<circle cx="690.6" cy="272.1" r="6.65"/>
<circle cx="702.1" cy="276.0" r="6.65"/>
<circle cx="694.5" cy="283.6" r="6.65"/>
<circle cx="694.5" cy="286.9" r="6.65"/>
<circle cx="700.2" cy="292.3" r="6.65"/>
<circle cx="700.2" cy="295.5" r="6.65"/>
<circle cx="690.6" cy="299.4" r="6.65"/>
<circle cx="698.3" cy="304.2" r="6.65"/>
<circle cx="696.4" cy="313.7" r="6.65"/>
<circle cx="690.6" cy="323.3" r="6.65"/>
<circle cx="701.2" cy="326.2" r="6.65"/>
<circle cx="698.3" cy="332.9" r="6.65"/>
<circle cx="692.6" cy="344.4" r="6.65"/>
<circle cx="702.1" cy="345.4" r="6.65"/>
<circle cx="698.3" cy="356.9" r="6.65"/>
<circle cx="695.4" cy="363.6" r="6.65"/>
<circle cx="696.0" cy="262.0" r="6.65"/>
<circle cx="696.0" cy="279.0" r="6.65"/>
<circle cx="696.0" cy="318.0" r="6.65"/>
<circle cx="696.0" cy="338.0" r="6.65"/>
</g>
<g fill="#b8b8b8">
<circle cx="733.0" cy="178.5" r="6.65"/>
<circle cx="725.0" cy="190.0" r="6.65"/>
<circle cx="724.4" cy="212.6" r="6.65"/>
<circle cx="733.0" cy="215.9" r="6.65"/>
<circle cx="729.2" cy="224.5" r="6.65"/>
<circle cx="729.2" cy="304.8" r="6.65"/>
<circle cx="733.4" cy="318.8" r="6.65"/>
<circle cx="725.3" cy="331.2" r="6.65"/>
<circle cx="725.0" cy="363.4" r="6.65"/>
<circle cx="733.4" cy="363.4" r="6.65"/>
<circle cx="725.0" cy="381.1" r="6.65"/>
<circle cx="734.0" cy="384.9" r="6.65"/>
<circle cx="729.2" cy="394.5" r="6.65"/>
<circle cx="729.3" cy="427.6" r="6.65"/>
<circle cx="729.3" cy="458.4" r="6.65"/>
</g>
<g fill="#ee7680">
<circle cx="766.5" cy="106.6" r="6.65"/>
<circle cx="757.9" cy="112.4" r="6.65"/>
<circle cx="762.1" cy="180.0" r="6.65"/>
<circle cx="757.9" cy="198.6" r="6.65"/>
<circle cx="766.0" cy="207.2" r="6.65"/>
<circle cx="761.7" cy="218.4" r="6.65"/>
<circle cx="757.9" cy="232.1" r="6.65"/>
<circle cx="767.5" cy="233.1" r="6.65"/>
<circle cx="761.4" cy="239.8" r="6.65"/>
<circle cx="766.0" cy="268.4" r="6.65"/>
<circle cx="757.5" cy="273.7" r="6.65"/>
<circle cx="762.1" cy="311.1" r="6.65"/>
<circle cx="757.5" cy="341.8" r="6.65"/>
<circle cx="766.5" cy="346.2" r="6.65"/>
<circle cx="762.1" cy="360.0" r="6.65"/>
<circle cx="757.0" cy="374.9" r="6.65"/>
<circle cx="766.0" cy="377.2" r="6.65"/>
<circle cx="760.8" cy="378.2" r="6.65"/>
<circle cx="757.5" cy="388.7" r="6.65"/>
<circle cx="769.8" cy="386.8" r="6.65"/>
<circle cx="766.5" cy="388.7" r="6.65"/>
<circle cx="760.8" cy="400.6" r="6.65"/>
<circle cx="762.0" cy="450.2" r="6.65"/>
</g>
<g fill="#cadf5c">
<circle cx="795.9" cy="162.2" r="6.65"/>
<circle cx="790.5" cy="168.0" r="6.65"/>
<circle cx="799.7" cy="173.7" r="6.65"/>
<circle cx="794.3" cy="186.2" r="6.65"/>
<circle cx="789.5" cy="208.8" r="6.65"/>
<circle cx="799.1" cy="208.2" r="6.65"/>
<circle cx="800.1" cy="223.5" r="6.65"/>
<circle cx="789.5" cy="229.3" r="6.65"/>
<circle cx="797.2" cy="231.2" r="6.65"/>
<circle cx="794.3" cy="243.6" r="6.65"/>
<circle cx="795.3" cy="250.4" r="6.65"/>
<circle cx="794.3" cy="249.8" r="6.65"/>
<circle cx="790.5" cy="265.1" r="6.65"/>
<circle cx="800.1" cy="269.0" r="6.65"/>
<circle cx="795.3" cy="275.7" r="6.65"/>
<circle cx="789.5" cy="281.4" r="6.65"/>
<circle cx="801.0" cy="280.5" r="6.65"/>
<circle cx="798.2" cy="288.1" r="6.65"/>
<circle cx="792.4" cy="295.8" r="6.65"/>
<circle cx="800.1" cy="302.5" r="6.65"/>
<circle cx="790.5" cy="305.9" r="6.65"/>
<circle cx="797.2" cy="315.0" r="6.65"/>
<circle cx="793.4" cy="321.7" r="6.65"/>
<circle cx="794.7" cy="359.0" r="6.65"/>
<circle cx="795.0" cy="238.0" r="6.65"/>
<circle cx="795.0" cy="258.0" r="6.65"/>
</g>
<g fill="#d7e8f0">
<circle cx="823.1" cy="164.1" r="6.65"/>
<circle cx="831.7" cy="163.2" r="6.65"/>
<circle cx="832.7" cy="179.4" r="6.65"/>
<circle cx="824.0" cy="185.2" r="6.65"/>
<circle cx="831.7" cy="191.9" r="6.65"/>
<circle cx="821.2" cy="195.7" r="6.65"/>
<circle cx="828.8" cy="203.4" r="6.65"/>
<circle cx="835.5" cy="210.1" r="6.65"/>
<circle cx="822.1" cy="215.9" r="6.65"/>
<circle cx="829.8" cy="218.7" r="6.65"/>
<circle cx="825.0" cy="226.4" r="6.65"/>
<circle cx="828.8" cy="233.1" r="6.65"/>
<circle cx="822.1" cy="245.6" r="6.65"/>
<circle cx="827.9" cy="248.4" r="6.65"/>
<circle cx="834.6" cy="246.5" r="6.65"/>
<circle cx="826.9" cy="248.8" r="6.65"/>
<circle cx="823.1" cy="274.7" r="6.65"/>
<circle cx="832.7" cy="274.7" r="6.65"/>
<circle cx="826.9" cy="278.5" r="6.65"/>
<circle cx="832.7" cy="291.0" r="6.65"/>
<circle cx="822.1" cy="295.8" r="6.65"/>
<circle cx="828.4" cy="297.7" r="6.65"/>
<circle cx="828.0" cy="172.0" r="6.65"/>
<circle cx="828.0" cy="240.0" r="6.65"/>
</g>
<g fill="#f9f6c8">
<circle cx="861.0" cy="88.0" r="6.65"/>
<circle cx="865.2" cy="109.5" r="6.65"/>
<circle cx="856.6" cy="114.3" r="6.65"/>
<circle cx="859.5" cy="124.8" r="6.65"/>
<circle cx="856.6" cy="137.3" r="6.65"/>
<circle cx="865.2" cy="146.9" r="6.65"/>
<circle cx="858.5" cy="153.6" r="6.65"/>
<circle cx="865.2" cy="159.3" r="6.65"/>
<circle cx="855.7" cy="165.1" r="6.65"/>
<circle cx="863.3" cy="172.7" r="6.65"/>
<circle cx="856.6" cy="179.4" r="6.65"/>
<circle cx="865.2" cy="180.4" r="6.65"/>
<circle cx="861.4" cy="186.2" r="6.65"/>
<circle cx="861.4" cy="199.6" r="6.65"/>
<circle cx="856.6" cy="213.0" r="6.65"/>
<circle cx="865.2" cy="211.1" r="6.65"/>
<circle cx="858.5" cy="224.5" r="6.65"/>
<circle cx="865.2" cy="236.0" r="6.65"/>
<circle cx="855.7" cy="236.0" r="6.65"/>
<circle cx="859.5" cy="244.6" r="6.65"/>
<circle cx="863.3" cy="249.4" r="6.65"/>
<circle cx="862.4" cy="250.7" r="6.65"/>
<circle cx="855.7" cy="258.4" r="6.65"/>
<circle cx="866.2" cy="257.5" r="6.65"/>
<circle cx="862.4" cy="265.1" r="6.65"/>
<circle cx="859.5" cy="276.6" r="6.65"/>
<circle cx="860.4" cy="293.3" r="6.65"/>
<circle cx="861.0" cy="130.0" r="6.65"/>
<circle cx="861.0" cy="192.0" r="6.65"/>
<circle cx="861.0" cy="205.0" r="6.65"/>
<circle cx="861.0" cy="219.0" r="6.65"/>
</g>
<g fill="#b8b8b8">
<circle cx="245.2" cy="1248.0" r="6.65"/>
<circle cx="249.1" cy="1360.2" r="6.65"/>
<circle cx="241.0" cy="1370.7" r="6.65"/>
<circle cx="245.2" cy="1418.6" r="6.65"/>
<circle cx="241.0" cy="1437.2" r="6.65"/>
<circle cx="249.5" cy="1436.4" r="6.65"/>
<circle cx="245.2" cy="1453.1" r="6.65"/>
<circle cx="245.2" cy="1500.1" r="6.65"/>
<circle cx="249.1" cy="1523.5" r="6.65"/>
<circle cx="241.0" cy="1533.0" r="6.65"/>
<circle cx="245.2" cy="1604.5" r="6.65"/>
<circle cx="245.2" cy="1618.3" r="6.65"/>
<circle cx="245.2" cy="1635.2" r="6.65"/>
<circle cx="245.2" cy="1664.9" r="6.65"/>
</g>
<g fill="#ee7680">
<circle cx="280.1" cy="1176.4" r="6.65"/>
<circle cx="272.5" cy="1188.8" r="6.65"/>
<circle cx="276.9" cy="1232.3" r="6.65"/>
<circle cx="276.9" cy="1247.7" r="6.65"/>
<circle cx="272.5" cy="1269.7" r="6.65"/>
<circle cx="280.1" cy="1279.3" r="6.65"/>
<circle cx="275.9" cy="1281.2" r="6.65"/>
<circle cx="276.9" cy="1338.1" r="6.65"/>
<circle cx="272.5" cy="1373.6" r="6.65"/>
<circle cx="280.7" cy="1372.6" r="6.65"/>
<circle cx="272.5" cy="1432.0" r="6.65"/>
<circle cx="280.7" cy="1432.0" r="6.65"/>
<circle cx="276.9" cy="1444.5" r="6.65"/>
<circle cx="280.1" cy="1467.1" r="6.65"/>
<circle cx="273.0" cy="1474.2" r="6.65"/>
<circle cx="272.5" cy="1478.8" r="6.65"/>
<circle cx="276.9" cy="1533.0" r="6.65"/>
<circle cx="280.7" cy="1541.7" r="6.65"/>
<circle cx="272.5" cy="1552.2" r="6.65"/>
<circle cx="278.2" cy="1555.1" r="6.65"/>
<circle cx="275.9" cy="1558.0" r="6.65"/>
<circle cx="280.1" cy="1593.0" r="6.65"/>
<circle cx="272.5" cy="1599.2" r="6.65"/>
<circle cx="276.9" cy="1618.3" r="6.65"/>
</g>
<g fill="#cadf5c">
<circle cx="312.3" cy="1363.6" r="6.65"/>
<circle cx="303.7" cy="1367.8" r="6.65"/>
<circle cx="312.3" cy="1381.2" r="6.65"/>
<circle cx="303.7" cy="1389.9" r="6.65"/>
<circle cx="311.4" cy="1396.6" r="6.65"/>
<circle cx="302.7" cy="1399.4" r="6.65"/>
<circle cx="307.5" cy="1410.0" r="6.65"/>
<circle cx="312.3" cy="1420.5" r="6.65"/>
<circle cx="303.7" cy="1429.2" r="6.65"/>
<circle cx="310.4" cy="1433.0" r="6.65"/>
<circle cx="303.7" cy="1453.7" r="6.65"/>
<circle cx="312.3" cy="1454.1" r="6.65"/>
<circle cx="304.7" cy="1466.5" r="6.65"/>
<circle cx="313.3" cy="1468.4" r="6.65"/>
<circle cx="304.7" cy="1467.9" r="6.65"/>
<circle cx="313.3" cy="1469.8" r="6.65"/>
<circle cx="303.7" cy="1475.5" r="6.65"/>
<circle cx="310.4" cy="1477.5" r="6.65"/>
<circle cx="308.1" cy="1484.2" r="6.65"/>
<circle cx="303.7" cy="1497.6" r="6.65"/>
<circle cx="312.3" cy="1497.6" r="6.65"/>
<circle cx="308.1" cy="1509.1" r="6.65"/>
<circle cx="311.9" cy="1527.3" r="6.65"/>
<circle cx="303.7" cy="1535.0" r="6.65"/>
<circle cx="308.0" cy="1404.0" r="6.65"/>
<circle cx="308.0" cy="1460.0" r="6.65"/>
</g>
<g fill="#d7e8f0">
<circle cx="339.5" cy="1335.2" r="6.65"/>
<circle cx="339.2" cy="1396.6" r="6.65"/>
<circle cx="335.3" cy="1408.1" r="6.65"/>
<circle cx="343.9" cy="1408.1" r="6.65"/>
<circle cx="338.2" cy="1419.6" r="6.65"/>
<circle cx="334.4" cy="1431.1" r="6.65"/>
<circle cx="343.0" cy="1436.8" r="6.65"/>
<circle cx="339.2" cy="1442.6" r="6.65"/>
<circle cx="335.3" cy="1453.1" r="6.65"/>
<circle cx="343.9" cy="1459.8" r="6.65"/>
<circle cx="338.2" cy="1467.5" r="6.65"/>
<circle cx="338.2" cy="1468.8" r="6.65"/>
<circle cx="343.0" cy="1472.7" r="6.65"/>
<circle cx="339.2" cy="1486.1" r="6.65"/>
<circle cx="334.4" cy="1492.8" r="6.65"/>
<circle cx="337.2" cy="1500.5" r="6.65"/>
<circle cx="344.9" cy="1500.5" r="6.65"/>
<circle cx="342.0" cy="1506.2" r="6.65"/>
<circle cx="335.3" cy="1513.9" r="6.65"/>
<circle cx="338.2" cy="1523.5" r="6.65"/>
<circle cx="343.0" cy="1526.3" r="6.65"/>
<circle cx="341.1" cy="1529.2" r="6.65"/>
<circle cx="339.2" cy="1543.6" r="6.65"/>
<circle cx="339.0" cy="1448.0" r="6.65"/>
</g>
<g fill="#f9f6c8">
<circle cx="370.8" cy="1138.4" r="6.65"/>
<circle cx="366.0" cy="1213.2" r="6.65"/>
<circle cx="374.6" cy="1217.4" r="6.65"/>
<circle cx="365.6" cy="1232.3" r="6.65"/>
<circle cx="374.6" cy="1231.4" r="6.65"/>
<circle cx="365.6" cy="1244.8" r="6.65"/>
<circle cx="374.6" cy="1245.4" r="6.65"/>
<circle cx="366.0" cy="1250.5" r="6.65"/>
<circle cx="372.7" cy="1259.2" r="6.65"/>
<circle cx="369.8" cy="1263.0" r="6.65"/>
<circle cx="366.9" cy="1279.3" r="6.65"/>
<circle cx="375.6" cy="1278.3" r="6.65"/>
<circle cx="366.0" cy="1291.7" r="6.65"/>
<circle cx="374.6" cy="1289.8" r="6.65"/>
<circle cx="372.7" cy="1296.5" r="6.65"/>
<circle cx="366.0" cy="1301.3" r="6.65"/>
<circle cx="370.8" cy="1298.8" r="6.65"/>
<circle cx="366.9" cy="1306.5" r="6.65"/>
<circle cx="373.7" cy="1300.7" r="6.65"/>
<circle cx="368.9" cy="1310.3" r="6.65"/>
<circle cx="374.6" cy="1324.7" r="6.65"/>
<circle cx="366.9" cy="1327.6" r="6.65"/>
<circle cx="369.8" cy="1332.4" r="6.65"/>
<circle cx="374.6" cy="1359.2" r="6.65"/>
<circle cx="366.0" cy="1367.8" r="6.65"/>
<circle cx="371.7" cy="1372.6" r="6.65"/>
<circle cx="368.9" cy="1377.4" r="6.65"/>
<circle cx="374.6" cy="1394.7" r="6.65"/>
<circle cx="366.0" cy="1398.5" r="6.65"/>
<circle cx="369.8" cy="1407.1" r="6.65"/>
<circle cx="374.6" cy="1447.4" r="6.65"/>
<circle cx="366.9" cy="1455.0" r="6.65"/>
<circle cx="370.8" cy="1473.2" r="6.65"/>
<circle cx="370.8" cy="1477.5" r="6.65"/>
<circle cx="370.8" cy="1496.6" r="6.65"/>
<circle cx="370.0" cy="1224.0" r="6.65"/>
<circle cx="370.0" cy="1238.0" r="6.65"/>
<circle cx="370.0" cy="1285.0" r="6.65"/>
</g>
<g fill="#b8b8b8">
<circle cx="402.2" cy="1195.4" r="6.65"/>
<circle cx="406.5" cy="1212.6" r="6.65"/>
<circle cx="398.0" cy="1217.0" r="6.65"/>
<circle cx="402.2" cy="1301.4" r="6.65"/>
<circle cx="398.0" cy="1335.3" r="6.65"/>
<circle cx="406.5" cy="1338.5" r="6.65"/>
<circle cx="402.2" cy="1344.9" r="6.65"/>
<circle cx="402.2" cy="1412.9" r="6.65"/>
<circle cx="402.2" cy="1489.4" r="6.65"/>
<circle cx="398.0" cy="1515.8" r="6.65"/>
<circle cx="406.5" cy="1514.9" r="6.65"/>
<circle cx="402.2" cy="1613.0" r="6.65"/>
<circle cx="402.2" cy="1699.8" r="6.65"/>
</g>
<g fill="#ee7680">
<circle cx="433.9" cy="1148.6" r="6.65"/>
<circle cx="437.7" cy="1196.9" r="6.65"/>
<circle cx="429.5" cy="1206.9" r="6.65"/>
<circle cx="437.1" cy="1239.4" r="6.65"/>
<circle cx="429.5" cy="1245.8" r="6.65"/>
<circle cx="433.3" cy="1257.3" r="6.65"/>
<circle cx="433.3" cy="1259.2" r="6.65"/>
<circle cx="429.5" cy="1277.2" r="6.65"/>
<circle cx="437.1" cy="1288.3" r="6.65"/>
<circle cx="432.5" cy="1290.2" r="6.65"/>
<circle cx="433.3" cy="1321.3" r="6.65"/>
<circle cx="437.7" cy="1338.5" r="6.65"/>
<circle cx="429.5" cy="1351.6" r="6.65"/>
<circle cx="437.1" cy="1381.9" r="6.65"/>
<circle cx="429.1" cy="1387.6" r="6.65"/>
<circle cx="429.5" cy="1403.3" r="6.65"/>
<circle cx="437.7" cy="1406.8" r="6.65"/>
<circle cx="433.3" cy="1413.9" r="6.65"/>
<circle cx="433.3" cy="1427.3" r="6.65"/>
<circle cx="433.3" cy="1431.5" r="6.65"/>
<circle cx="433.3" cy="1472.1" r="6.65"/>
<circle cx="437.7" cy="1558.9" r="6.65"/>
<circle cx="429.5" cy="1560.3" r="6.65"/>
<circle cx="437.7" cy="1595.0" r="6.65"/>
<circle cx="429.5" cy="1598.8" r="6.65"/>
</g>
<g fill="#cadf5c">
<circle cx="460.7" cy="1413.9" r="6.65"/>
<circle cx="468.9" cy="1412.5" r="6.65"/>
<circle cx="461.7" cy="1425.4" r="6.65"/>
<circle cx="470.3" cy="1426.3" r="6.65"/>
<circle cx="460.7" cy="1424.8" r="6.65"/>
<circle cx="469.3" cy="1428.6" r="6.65"/>
<circle cx="461.7" cy="1431.5" r="6.65"/>
<circle cx="468.4" cy="1444.5" r="6.65"/>
<circle cx="459.7" cy="1449.7" r="6.65"/>
<circle cx="464.5" cy="1460.6" r="6.65"/>
<circle cx="469.8" cy="1461.5" r="6.65"/>
<circle cx="460.2" cy="1467.0" r="6.65"/>
<circle cx="465.5" cy="1473.3" r="6.65"/>
<circle cx="469.3" cy="1484.2" r="6.65"/>
<circle cx="460.7" cy="1482.9" r="6.65"/>
<circle cx="462.6" cy="1490.9" r="6.65"/>
<circle cx="468.4" cy="1492.8" r="6.65"/>
<circle cx="465.1" cy="1502.8" r="6.65"/>
<circle cx="465.0" cy="1438.0" r="6.65"/>
<circle cx="465.0" cy="1455.0" r="6.65"/>
<circle cx="465.0" cy="1478.0" r="6.65"/>
</g>
<g fill="#d7e8f0">
<circle cx="496.5" cy="1096.3" r="6.65"/>
<circle cx="496.5" cy="1112.6" r="6.65"/>
<circle cx="492.7" cy="1154.7" r="6.65"/>
<circle cx="501.0" cy="1160.5" r="6.65"/>
<circle cx="496.5" cy="1172.9" r="6.65"/>
<circle cx="496.5" cy="1192.1" r="6.65"/>
<circle cx="496.5" cy="1215.1" r="6.65"/>
<circle cx="500.0" cy="1222.8" r="6.65"/>
<circle cx="491.4" cy="1227.6" r="6.65"/>
<circle cx="496.2" cy="1231.4" r="6.65"/>
<circle cx="493.3" cy="1239.1" r="6.65"/>
<circle cx="501.9" cy="1241.0" r="6.65"/>
<circle cx="493.3" cy="1253.4" r="6.65"/>
<circle cx="494.2" cy="1253.8" r="6.65"/>
<circle cx="499.6" cy="1256.7" r="6.65"/>
<circle cx="491.4" cy="1275.9" r="6.65"/>
<circle cx="500.0" cy="1272.0" r="6.65"/>
<circle cx="492.3" cy="1298.9" r="6.65"/>
<circle cx="501.0" cy="1300.8" r="6.65"/>
<circle cx="500.0" cy="1313.2" r="6.65"/>
<circle cx="492.3" cy="1320.0" r="6.65"/>
<circle cx="498.1" cy="1325.7" r="6.65"/>
<circle cx="494.2" cy="1328.6" r="6.65"/>
<circle cx="496.5" cy="1343.9" r="6.65"/>
<circle cx="496.5" cy="1360.8" r="6.65"/>
<circle cx="497.0" cy="1264.0" r="6.65"/>
<circle cx="497.0" cy="1247.0" r="6.65"/>
</g>
<g fill="#f9f6c8">
<circle cx="531.6" cy="1133.7" r="6.65"/>
<circle cx="523.4" cy="1135.6" r="6.65"/>
<circle cx="523.0" cy="1150.0" r="6.65"/>
<circle cx="532.6" cy="1149.0" r="6.65"/>
<circle cx="526.8" cy="1155.7" r="6.65"/>
<circle cx="523.9" cy="1166.2" r="6.65"/>
<circle cx="527.8" cy="1175.8" r="6.65"/>
<circle cx="523.0" cy="1177.7" r="6.65"/>
<circle cx="533.5" cy="1175.8" r="6.65"/>
<circle cx="532.6" cy="1186.4" r="6.65"/>
<circle cx="527.8" cy="1195.9" r="6.65"/>
<circle cx="523.9" cy="1208.4" r="6.65"/>
<circle cx="533.5" cy="1205.5" r="6.65"/>
<circle cx="526.8" cy="1219.9" r="6.65"/>
<circle cx="532.6" cy="1232.4" r="6.65"/>
<circle cx="523.9" cy="1240.0" r="6.65"/>
<circle cx="531.6" cy="1250.6" r="6.65"/>
<circle cx="523.0" cy="1252.5" r="6.65"/>
<circle cx="531.6" cy="1252.9" r="6.65"/>
<circle cx="523.0" cy="1253.8" r="6.65"/>
<circle cx="529.7" cy="1263.4" r="6.65"/>
<circle cx="524.9" cy="1267.2" r="6.65"/>
<circle cx="523.9" cy="1279.7" r="6.65"/>
<circle cx="527.8" cy="1288.3" r="6.65"/>
<circle cx="532.6" cy="1285.5" r="6.65"/>
<circle cx="531.6" cy="1309.4" r="6.65"/>
<circle cx="523.9" cy="1319.0" r="6.65"/>
<circle cx="532.6" cy="1321.9" r="6.65"/>
<circle cx="523.9" cy="1332.4" r="6.65"/>
<circle cx="526.8" cy="1339.1" r="6.65"/>
<circle cx="530.7" cy="1337.2" r="6.65"/>
<circle cx="523.9" cy="1357.3" r="6.65"/>
<circle cx="531.6" cy="1365.9" r="6.65"/>
<circle cx="526.8" cy="1366.9" r="6.65"/>
<circle cx="527.8" cy="1397.2" r="6.65"/>
<circle cx="527.8" cy="1454.9" r="6.65"/>
<circle cx="528.0" cy="1162.0" r="6.65"/>
<circle cx="528.0" cy="1226.0" r="6.65"/>
<circle cx="528.0" cy="1272.0" r="6.65"/>
</g>
<g fill="#b8b8b8">
<circle cx="563.0" cy="1163.4" r="6.65"/>
<circle cx="555.3" cy="1174.9" r="6.65"/>
<circle cx="559.2" cy="1208.3" r="6.65"/>
<circle cx="559.2" cy="1263.3" r="6.65"/>
<circle cx="559.2" cy="1312.4" r="6.65"/>
<circle cx="559.2" cy="1354.9" r="6.65"/>
<circle cx="559.2" cy="1384.5" r="6.65"/>
<circle cx="563.4" cy="1409.0" r="6.65"/>
<circle cx="555.3" cy="1414.7" r="6.65"/>
<circle cx="559.2" cy="1432.9" r="6.65"/>
<circle cx="559.2" cy="1461.7" r="6.65"/>
<circle cx="559.2" cy="1479.9" r="6.65"/>
<circle cx="563.4" cy="1532.6" r="6.65"/>
<circle cx="555.3" cy="1539.3" r="6.65"/>
<circle cx="559.2" cy="1572.6" r="6.65"/>
<circle cx="559.2" cy="1620.5" r="6.65"/>
</g>
<g fill="#ee7680">
<circle cx="594.6" cy="1153.3" r="6.65"/>
<circle cx="587.0" cy="1161.5" r="6.65"/>
<circle cx="594.6" cy="1215.6" r="6.65"/>
<circle cx="587.0" cy="1218.4" r="6.65"/>
<circle cx="595.6" cy="1217.9" r="6.65"/>
<circle cx="587.0" cy="1219.8" r="6.65"/>
<circle cx="595.6" cy="1245.7" r="6.65"/>
<circle cx="587.0" cy="1251.0" r="6.65"/>
<circle cx="594.6" cy="1268.3" r="6.65"/>
<circle cx="587.0" cy="1271.0" r="6.65"/>
<circle cx="590.8" cy="1291.3" r="6.65"/>
<circle cx="595.6" cy="1316.2" r="6.65"/>
<circle cx="587.0" cy="1318.1" r="6.65"/>
<circle cx="595.6" cy="1350.1" r="6.65"/>
<circle cx="587.0" cy="1349.2" r="6.65"/>
<circle cx="594.6" cy="1362.2" r="6.65"/>
<circle cx="586.0" cy="1367.4" r="6.65"/>
<circle cx="594.6" cy="1373.1" r="6.65"/>
<circle cx="589.4" cy="1380.8" r="6.65"/>
<circle cx="590.8" cy="1424.9" r="6.65"/>
<circle cx="590.8" cy="1463.2" r="6.65"/>
<circle cx="595.2" cy="1479.9" r="6.65"/>
<circle cx="587.0" cy="1485.0" r="6.65"/>
<circle cx="590.8" cy="1520.1" r="6.65"/>
</g>
<g fill="#cadf5c">
<circle cx="618.6" cy="1326.2" r="6.65"/>
<circle cx="625.9" cy="1324.6" r="6.65"/>
<circle cx="618.6" cy="1339.6" r="6.65"/>
<circle cx="627.2" cy="1344.4" r="6.65"/>
<circle cx="620.5" cy="1349.2" r="6.65"/>
<circle cx="620.5" cy="1357.8" r="6.65"/>
<circle cx="629.1" cy="1366.4" r="6.65"/>
<circle cx="617.6" cy="1365.4" r="6.65"/>
<circle cx="624.3" cy="1374.1" r="6.65"/>
<circle cx="619.5" cy="1379.8" r="6.65"/>
<circle cx="622.4" cy="1386.5" r="6.65"/>
<circle cx="618.6" cy="1394.2" r="6.65"/>
<circle cx="622.4" cy="1386.9" r="6.65"/>
<circle cx="616.7" cy="1398.8" r="6.65"/>
<circle cx="626.2" cy="1401.3" r="6.65"/>
<circle cx="624.3" cy="1406.1" r="6.65"/>
<circle cx="619.5" cy="1413.7" r="6.65"/>
<circle cx="621.4" cy="1420.5" r="6.65"/>
<circle cx="626.2" cy="1437.7" r="6.65"/>
<circle cx="618.6" cy="1449.2" r="6.65"/>
<circle cx="623.0" cy="1333.0" r="6.65"/>
<circle cx="623.0" cy="1391.0" r="6.65"/>
</g>
<g fill="#d7e8f0">
<circle cx="654.0" cy="1060.3" r="6.65"/>
<circle cx="654.0" cy="1093.3" r="6.65"/>
<circle cx="657.3" cy="1119.4" r="6.65"/>
<circle cx="649.6" cy="1124.5" r="6.65"/>
<circle cx="654.0" cy="1152.3" r="6.65"/>
<circle cx="654.0" cy="1166.7" r="6.65"/>
<circle cx="649.6" cy="1178.8" r="6.65"/>
<circle cx="657.3" cy="1187.8" r="6.65"/>
<circle cx="651.2" cy="1188.7" r="6.65"/>
<circle cx="649.2" cy="1202.1" r="6.65"/>
<circle cx="657.3" cy="1202.1" r="6.65"/>
<circle cx="649.2" cy="1213.3" r="6.65"/>
<circle cx="655.0" cy="1215.2" r="6.65"/>
<circle cx="649.2" cy="1222.3" r="6.65"/>
<circle cx="655.9" cy="1216.9" r="6.65"/>
<circle cx="649.2" cy="1224.6" r="6.65"/>
<circle cx="658.8" cy="1232.2" r="6.65"/>
<circle cx="652.1" cy="1238.0" r="6.65"/>
<circle cx="656.9" cy="1243.7" r="6.65"/>
<circle cx="650.2" cy="1261.0" r="6.65"/>
<circle cx="660.7" cy="1269.6" r="6.65"/>
<circle cx="655.0" cy="1270.6" r="6.65"/>
<circle cx="653.1" cy="1276.3" r="6.65"/>
<circle cx="649.2" cy="1293.6" r="6.65"/>
<circle cx="657.3" cy="1293.2" r="6.65"/>
<circle cx="657.3" cy="1311.8" r="6.65"/>
<circle cx="649.6" cy="1323.3" r="6.65"/>
</g>
<g fill="#f9f6c8">
<circle cx="681.4" cy="1131.2" r="6.65"/>
<circle cx="690.4" cy="1135.1" r="6.65"/>
<circle cx="684.7" cy="1139.9" r="6.65"/>
<circle cx="684.7" cy="1154.2" r="6.65"/>
<circle cx="680.9" cy="1166.7" r="6.65"/>
<circle cx="689.1" cy="1170.5" r="6.65"/>
<circle cx="684.7" cy="1176.3" r="6.65"/>
<circle cx="681.4" cy="1192.2" r="6.65"/>
<circle cx="691.0" cy="1194.5" r="6.65"/>
<circle cx="685.7" cy="1200.2" r="6.65"/>
<circle cx="679.9" cy="1207.9" r="6.65"/>
<circle cx="688.5" cy="1212.7" r="6.65"/>
<circle cx="683.7" cy="1218.4" r="6.65"/>
<circle cx="685.6" cy="1216.9" r="6.65"/>
<circle cx="681.8" cy="1229.4" r="6.65"/>
<circle cx="689.1" cy="1228.8" r="6.65"/>
<circle cx="682.8" cy="1242.8" r="6.65"/>
<circle cx="688.5" cy="1241.8" r="6.65"/>
<circle cx="680.9" cy="1263.9" r="6.65"/>
<circle cx="689.1" cy="1268.7" r="6.65"/>
<circle cx="684.7" cy="1276.3" r="6.65"/>
<circle cx="689.5" cy="1289.7" r="6.65"/>
<circle cx="681.4" cy="1296.4" r="6.65"/>
<circle cx="681.8" cy="1308.9" r="6.65"/>
<circle cx="688.5" cy="1312.7" r="6.65"/>
<circle cx="684.7" cy="1321.4" r="6.65"/>
<circle cx="681.4" cy="1335.7" r="6.65"/>
<circle cx="689.5" cy="1335.7" r="6.65"/>
<circle cx="685.6" cy="1342.4" r="6.65"/>
<circle cx="681.4" cy="1366.4" r="6.65"/>
<circle cx="689.5" cy="1371.2" r="6.65"/>
<circle cx="686.6" cy="1375.0" r="6.65"/>
<circle cx="684.7" cy="1381.7" r="6.65"/>
<circle cx="688.5" cy="1394.2" r="6.65"/>
<circle cx="689.1" cy="1399.4" r="6.65"/>
<circle cx="680.9" cy="1405.7" r="6.65"/>
</g>
<g fill="#b8b8b8">
<circle cx="720.7" cy="1179.2" r="6.65"/>
<circle cx="712.5" cy="1186.4" r="6.65"/>
<circle cx="716.9" cy="1210.2" r="6.65"/>
<circle cx="716.9" cy="1302.2" r="6.65"/>
<circle cx="720.7" cy="1314.7" r="6.65"/>
<circle cx="712.5" cy="1324.6" r="6.65"/>
<circle cx="716.9" cy="1340.5" r="6.65"/>
<circle cx="720.7" cy="1415.3" r="6.65"/>
<circle cx="712.5" cy="1424.3" r="6.65"/>
<circle cx="716.9" cy="1447.9" r="6.65"/>
<circle cx="720.7" cy="1484.3" r="6.65"/>
<circle cx="712.5" cy="1493.3" r="6.65"/>
<circle cx="716.9" cy="1508.6" r="6.65"/>
<circle cx="716.6" cy="1537.0" r="6.65"/>
<circle cx="720.9" cy="1586.5" r="6.65"/>
<circle cx="712.8" cy="1591.2" r="6.65"/>
</g>
<g fill="#ee7680">
<circle cx="747.9" cy="1115.5" r="6.65"/>
<circle cx="747.9" cy="1171.9" r="6.65"/>
<circle cx="752.1" cy="1213.6" r="6.65"/>
<circle cx="744.5" cy="1218.4" r="6.65"/>
<circle cx="744.1" cy="1219.8" r="6.65"/>
<circle cx="747.9" cy="1236.1" r="6.65"/>
<circle cx="752.1" cy="1268.7" r="6.65"/>
<circle cx="744.1" cy="1276.7" r="6.65"/>
<circle cx="744.1" cy="1297.8" r="6.65"/>
<circle cx="752.1" cy="1308.9" r="6.65"/>
<circle cx="747.9" cy="1315.6" r="6.65"/>
<circle cx="751.4" cy="1336.1" r="6.65"/>
<circle cx="743.7" cy="1338.6" r="6.65"/>
<circle cx="752.1" cy="1361.6" r="6.65"/>
<circle cx="744.1" cy="1363.0" r="6.65"/>
<circle cx="747.9" cy="1390.5" r="6.65"/>
<circle cx="743.7" cy="1420.5" r="6.65"/>
<circle cx="752.1" cy="1419.1" r="6.65"/>
<circle cx="744.1" cy="1459.7" r="6.65"/>
<circle cx="752.1" cy="1469.3" r="6.65"/>
<circle cx="747.9" cy="1470.3" r="6.65"/>
<circle cx="744.1" cy="1491.4" r="6.65"/>
<circle cx="752.1" cy="1491.4" r="6.65"/>
<circle cx="747.9" cy="1501.0" r="6.65"/>
</g>
<g fill="#cadf5c">
<circle cx="779.5" cy="1316.6" r="6.65"/>
<circle cx="779.5" cy="1330.0" r="6.65"/>
<circle cx="784.3" cy="1337.7" r="6.65"/>
<circle cx="775.7" cy="1340.0" r="6.65"/>
<circle cx="778.6" cy="1352.6" r="6.65"/>
<circle cx="783.4" cy="1359.7" r="6.65"/>
<circle cx="774.7" cy="1355.9" r="6.65"/>
<circle cx="779.5" cy="1372.1" r="6.65"/>
<circle cx="775.7" cy="1381.7" r="6.65"/>
<circle cx="785.3" cy="1384.6" r="6.65"/>
<circle cx="781.4" cy="1391.3" r="6.65"/>
<circle cx="775.7" cy="1386.0" r="6.65"/>
<circle cx="784.3" cy="1386.9" r="6.65"/>
<circle cx="781.4" cy="1394.2" r="6.65"/>
<circle cx="775.7" cy="1392.7" r="6.65"/>
<circle cx="774.7" cy="1409.0" r="6.65"/>
<circle cx="782.4" cy="1411.4" r="6.65"/>
<circle cx="784.3" cy="1408.0" r="6.65"/>
<circle cx="778.6" cy="1418.5" r="6.65"/>
<circle cx="778.6" cy="1426.2" r="6.65"/>
<circle cx="780.0" cy="1345.0" r="6.65"/>
<circle cx="780.0" cy="1365.0" r="6.65"/>
<circle cx="780.0" cy="1400.0" r="6.65"/>
</g>
<g fill="#d7e8f0">
<circle cx="811.2" cy="1060.0" r="6.65"/>
<circle cx="811.2" cy="1080.5" r="6.65"/>
<circle cx="814.6" cy="1128.4" r="6.65"/>
<circle cx="806.9" cy="1132.2" r="6.65"/>
<circle cx="814.6" cy="1153.3" r="6.65"/>
<circle cx="806.9" cy="1154.6" r="6.65"/>
<circle cx="814.6" cy="1191.6" r="6.65"/>
<circle cx="806.4" cy="1199.3" r="6.65"/>
<circle cx="815.0" cy="1204.1" r="6.65"/>
<circle cx="807.3" cy="1210.8" r="6.65"/>
<circle cx="812.1" cy="1214.6" r="6.65"/>
<circle cx="807.3" cy="1222.3" r="6.65"/>
<circle cx="811.2" cy="1217.9" r="6.65"/>
<circle cx="815.0" cy="1225.5" r="6.65"/>
<circle cx="806.4" cy="1231.3" r="6.65"/>
<circle cx="810.2" cy="1240.9" r="6.65"/>
<circle cx="810.8" cy="1256.2" r="6.65"/>
<circle cx="806.4" cy="1269.6" r="6.65"/>
<circle cx="814.6" cy="1272.5" r="6.65"/>
<circle cx="808.3" cy="1277.3" r="6.65"/>
<circle cx="811.2" cy="1286.9" r="6.65"/>
<circle cx="806.4" cy="1299.3" r="6.65"/>
<circle cx="815.0" cy="1302.2" r="6.65"/>
<circle cx="810.8" cy="1310.8" r="6.65"/>
<circle cx="811.2" cy="1350.1" r="6.65"/>
</g>
<g fill="#f9f6c8">
<circle cx="842.8" cy="1099.0" r="6.65"/>
<circle cx="838.4" cy="1113.0" r="6.65"/>
<circle cx="847.2" cy="1116.3" r="6.65"/>
<circle cx="838.4" cy="1125.5" r="6.65"/>
<circle cx="846.6" cy="1135.1" r="6.65"/>
<circle cx="839.9" cy="1141.8" r="6.65"/>
<circle cx="843.7" cy="1144.7" r="6.65"/>
<circle cx="846.6" cy="1164.8" r="6.65"/>
<circle cx="838.4" cy="1169.2" r="6.65"/>
<circle cx="838.4" cy="1194.9" r="6.65"/>
<circle cx="847.2" cy="1200.2" r="6.65"/>
<circle cx="840.9" cy="1205.0" r="6.65"/>
<circle cx="844.7" cy="1213.6" r="6.65"/>
<circle cx="838.0" cy="1222.3" r="6.65"/>
<circle cx="845.7" cy="1220.7" r="6.65"/>
<circle cx="838.0" cy="1224.6" r="6.65"/>
<circle cx="844.7" cy="1226.9" r="6.65"/>
<circle cx="841.8" cy="1239.9" r="6.65"/>
<circle cx="838.0" cy="1251.4" r="6.65"/>
<circle cx="846.6" cy="1251.4" r="6.65"/>
<circle cx="840.9" cy="1262.0" r="6.65"/>
<circle cx="846.6" cy="1281.1" r="6.65"/>
<circle cx="838.4" cy="1286.9" r="6.65"/>
<circle cx="838.0" cy="1299.3" r="6.65"/>
<circle cx="846.0" cy="1305.1" r="6.65"/>
<circle cx="841.8" cy="1316.6" r="6.65"/>
<circle cx="846.6" cy="1329.0" r="6.65"/>
<circle cx="838.4" cy="1337.3" r="6.65"/>
<circle cx="838.4" cy="1360.6" r="6.65"/>
<circle cx="846.6" cy="1367.4" r="6.65"/>
<circle cx="842.8" cy="1383.3" r="6.65"/>
<circle cx="842.2" cy="1386.0" r="6.65"/>
</g>
</g>
</svg>
</body></html>
